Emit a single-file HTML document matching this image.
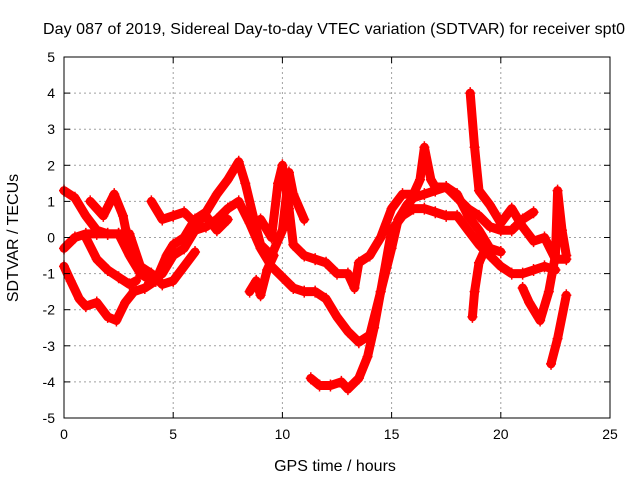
<!DOCTYPE html>
<html><head><meta charset="utf-8"><style>
body{margin:0;background:#fff}
svg{display:block;font-family:"Liberation Sans",sans-serif}
</style></head><body>
<svg id="chart" width="640" height="480">
<rect width="640" height="480" fill="#fff"/>
<text x="334" y="34" font-size="16" text-anchor="middle" textLength="582">Day 087 of 2019, Sidereal Day-to-day VTEC variation (SDTVAR) for receiver spt0</text>
<g id="grid"></g>
<g id="series"></g>
<rect x="64" y="57" width="546" height="361" fill="none" stroke="#000" stroke-width="1"/>
<g id="ticks"></g>
<text x="335" y="471" font-size="16" text-anchor="middle">GPS time / hours</text>
<text x="18" y="238" font-size="16" text-anchor="middle" transform="rotate(-90 18 238)">SDTVAR / TECUs</text>
</svg>
<script>
const xTicks=[0,5,10,15,20,25];
const yTicks=[-5,-4,-3,-2,-1,0,1,2,3,4,5];
const s1t=[0,0.5,1,1.5,2,2.5,3,3.5,4,4.5,5,5.5,6,6.5,7,7.5,8,8.5,9,9.5,10,10.5,11,11.5,12,12.5,13,13.5,14,14.5,15,15.5,16,16.5,17,17.5,18,18.5,19,19.5,20,20.5,21,21.5,22,22.5];
const s1v=[1.3,1.1,0.6,0.2,0.1,0.1,-0.5,-1.0,-1.2,-1.0,-0.5,-0.3,0.2,0.3,0.5,0.8,1.0,0.4,-0.3,-0.8,-1.1,-1.4,-1.5,-1.5,-1.7,-2.2,-2.6,-2.9,-2.7,-1.5,0.2,0.6,0.8,0.8,0.7,0.6,0.6,0.2,-0.2,-0.5,-0.8,-1.0,-1.0,-0.9,-0.8,-0.9];
const s2t=[0,0.3,0.7,1,1.5,2,2.4,2.8,3.2,3.7,4.2,4.7,5,5.5,6,6.5,7,7.5,8,8.3,8.7,9,9.5,10,10.3,10.5,11];
const s2v=[-0.8,-1.2,-1.7,-1.9,-1.8,-2.2,-2.3,-1.8,-1.5,-1.4,-1.2,-0.5,-0.2,0.0,0.5,0.7,1.2,1.6,2.1,1.5,0.5,-0.2,-0.5,0.2,1.8,1.2,0.5];
const s3t=[11.3,11.7,12.2,12.7,13,13.5,13.9,14.2,14.5,15,15.3,15.7,16,16.5,17,17.5,18,18.5,19,19.5,20,20.5,21,21.5];
const s3v=[-3.9,-4.1,-4.1,-4.0,-4.2,-3.9,-3.3,-2.5,-1.5,-0.3,0.5,0.9,1.1,1.2,1.3,1.4,1.1,0.8,0.6,0.3,0.2,0.2,0.5,0.7];
const s4t=[9,9.5,9.8,10,10.3,10.5,11,11.5,12,12.5,13,13.3,13.5,14,14.5,15,15.5,16,16.3,16.5,16.8,17,17.5,18,18.5,19,19.5,20];
const s4v=[0.5,0.0,1.5,2.0,0.8,-0.2,-0.5,-0.6,-0.7,-1.0,-1.0,-1.4,-0.7,-0.5,0.0,0.8,1.2,1.2,1.6,2.5,1.6,1.4,1.4,1.2,0.6,0.2,-0.3,-0.4];
const s5t=[0,0.5,1,1.5,2,2.5,3,3.5,4,4.5,5,5.5,6];
const s5v=[-0.3,0.0,0.1,0.1,0.1,0.1,0.1,-0.8,-1.0,-1.3,-1.2,-0.8,-0.4];
const s6t=[1,1.5,2,2.5,3,3.3];
const s6v=[0.0,-0.6,-0.9,-1.1,-1.3,-1.2];
const s7t=[1.2,1.8,2.3,2.7,3,3.5];
const s7v=[1.0,0.6,1.2,0.6,-0.3,-1.0];
const s8t=[4,4.5,5,5.5,6,6.5,7,7.5];
const s8v=[1.0,0.5,0.6,0.7,0.4,0.6,0.2,0.5];
const s9t=[8.5,8.8,9,9.3,9.6];
const s9v=[-1.5,-1.2,-1.6,-0.9,-0.5];
const s10t=[18.6,18.8,19,19.5,20,20.5,21,21.5,22,22.5,23];
const s10v=[4.0,2.5,1.3,0.9,0.4,0.8,0.3,-0.1,0.0,-0.6,-0.6];
const s11t=[21,21.3,21.8,22.2,22.5,22.6,22.8,23];
const s11v=[-1.4,-1.8,-2.3,-1.5,-0.5,1.3,0.2,-0.5];
const s12t=[22.3,22.6,23];
const s12v=[-3.5,-2.8,-1.6];
const s13t=[18.7,18.8,19,19.3];
const s13v=[-2.2,-1.5,-0.7,-0.3];
const seriesT=[s1t,s2t,s3t,s4t,s5t,s6t,s7t,s8t,s9t,s10t,s11t,s12t,s13t];
const seriesV=[s1v,s2v,s3v,s4v,s5v,s6v,s7v,s8v,s9v,s10v,s11v,s12v,s13v];
const X0=64,X1=610,Y0=418,Y1=57;
function xs(t){return X0+(t-0)/25*(X1-X0);}
function ys(v){return Y0-(v+5)/10*(Y0-Y1);}
const NS="http://www.w3.org/2000/svg";
const grid=document.getElementById('grid'),ticks=document.getElementById('ticks'),sg=document.getElementById('series');
function mk(tag,attrs,parent){const e=document.createElementNS(NS,tag);for(const k in attrs)e.setAttribute(k,attrs[k]);parent.appendChild(e);return e;}
xTicks.forEach(t=>{const x=xs(t);
 if(t>0&&t<25){const g=mk('line',{x1:x,x2:x,y1:Y1,y2:Y0,stroke:'#a0a0a0','stroke-dasharray':'2,3'},grid);
 
 }
 const a=mk('line',{x1:x,x2:x,y1:Y0,y2:Y0-6,stroke:'#000'},ticks);
 
 
 const b=mk('line',{x1:x,x2:x,y1:Y1,y2:Y1+6,stroke:'#000'},ticks);
 
 
 const l=mk('text',{x:x,y:Y0+21,'font-size':14,'text-anchor':'middle'},ticks);l.textContent=t;
 
 
});
yTicks.forEach(v=>{const y=ys(v);
 if(v>-5&&v<5){const g=mk('line',{x1:X0,x2:X1,y1:y,y2:y,stroke:'#a0a0a0','stroke-dasharray':'2,3'},grid);
 
 }
 const a=mk('line',{x1:X0,x2:X0+6,y1:y,y2:y,stroke:'#000'},ticks);
 
 
 const b=mk('line',{x1:X1,x2:X1-6,y1:y,y2:y,stroke:'#000'},ticks);
 
 
 const l=mk('text',{x:X0-9,y:y+5,'font-size':14,'text-anchor':'end'},ticks);l.textContent=v;
 
 
});
seriesT.forEach((ts,i)=>{const vs=seriesV[i];
 const pts=ts.map((t,j)=>xs(t).toFixed(1)+','+ys(vs[j]).toFixed(1)).join(' ');
 const pl=mk('polyline',{points:pts,fill:'none',stroke:'#ff0000','stroke-width':9,'stroke-linejoin':'round','stroke-linecap':'round'},sg);
 
 
 ts.forEach((t,j)=>{const x=xs(t),y=ys(vs[j]);
  const p=mk('path',{d:`M${x-5},${y}h10M${x},${y-6}v12`,stroke:'#ff0000','stroke-width':1.5},sg);
  
  
 });
});
</script>
</body></html>
